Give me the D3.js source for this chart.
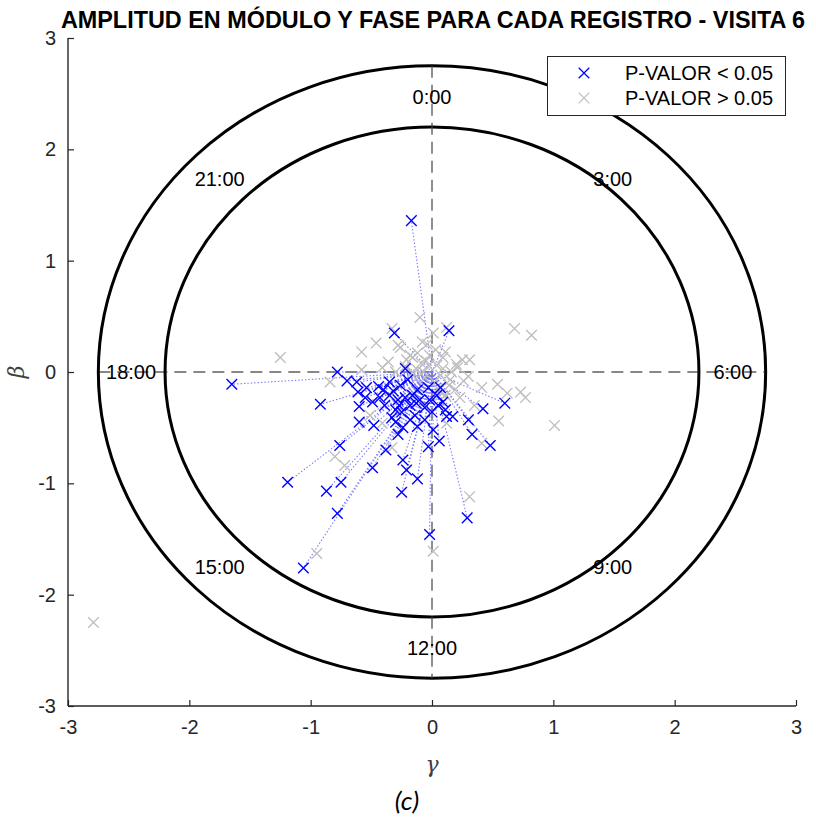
<!DOCTYPE html>
<html><head><meta charset="utf-8">
<script src="https://cdn.jsdelivr.net/npm/d3@7"></script>
<style>body{margin:0;background:#fff}svg{display:block}</style>
</head><body>
<svg id="c" width="816" height="821"></svg>
<script>
// ---------- DATA ----------
const titleText = "AMPLITUD EN MÓDULO Y FASE PARA CADA REGISTRO - VISITA 6";
const xTicks = [-3,-2,-1,0,1,2,3];
const yTicks = [-3,-2,-1,0,1,2,3];
const ringRadii = [2.2, 2.75];
const hourLabels = ["0:00","3:00","6:00","9:00","12:00","15:00","18:00","21:00"];
const hourX = [0, 1.49, 2.48, 1.49, 0, -1.75, -2.48, -1.75];
const hourY = [2.47, 1.73, 0, -1.75, -2.48, -1.75, 0, 1.73];
const legendLabels = ["P-VALOR < 0.05", "P-VALOR > 0.05"];

// significant (p < 0.05): gamma, beta
const sigGamma = [-0.17,-1.65,-0.78,-0.31,0.14,-0.22,-0.70,-0.62,-0.61,-0.44,-0.92,-0.60,-0.60,-0.48,-0.76,-1.19,-0.87,-0.75,-0.78,-1.06,
  -0.49,-0.38,-0.28,-0.24,-0.21,-0.25,-0.12,-0.02,-0.03,0.06,0.01,-0.12,-0.24,0.12,0.17,0.30,0.33,0.48,0.42,0.60,0.29,
  -0.35,-0.28,-0.22,-0.16,-0.39,-0.30,-0.25,-0.18,-0.10,-0.06,-0.14,-0.33,-0.43,-0.49,-0.55,-0.02,0.05,0.11,0.04,0.07,-0.03,-0.12,-0.26,-0.20,-0.35,-0.40,-0.54,-0.06,-0.18,-0.30,
  -0.32,-0.27,-0.13,0.00,0.09];
const sigBeta = [1.36,-0.11,0.00,0.35,0.37,0.03,-0.08,-0.09,-0.18,-0.13,-0.29,-0.31,-0.45,-0.48,-0.66,-0.99,-1.07,-0.99,-1.27,-1.76,
  -0.86,-0.70,-0.56,-0.79,-0.88,-1.08,-0.96,-1.46,-0.67,-0.62,-0.52,-0.49,-0.50,-0.40,-0.40,-0.43,-0.56,-0.66,-0.33,-0.28,-1.31,
  -0.21,-0.25,-0.23,-0.21,-0.30,-0.34,-0.36,-0.30,-0.25,-0.32,-0.39,-0.41,-0.23,-0.27,-0.23,-0.25,-0.30,-0.34,-0.21,-0.14,-0.14,-0.16,-0.12,-0.07,-0.09,-0.16,-0.14,-0.43,-0.43,-0.45,
  -0.17,-0.30,-0.28,-0.36,-0.27];

// non-significant (p > 0.05): gamma, beta
const nsGamma = [-2.79,-1.25,-0.84,-0.58,-0.46,-0.33,-0.10,-0.28,-0.08,0.12,0.01,0.68,0.82,-0.58,-0.41,-0.26,-0.18,-0.21,-0.12,0.11,
  0.09,-0.16,0.21,0.30,0.41,0.54,0.73,0.77,0.62,0.35,0.55,1.01,0.41,0.31,0.01,-0.95,-0.80,-0.72,-0.51,-0.41,
  -0.33,0.12,-0.07,-0.03,0.04,0.07,0.15,0.19,0.23,0.02,-0.06,-0.12,-0.16,0.11,0.16,-0.02,-0.36,-0.30,0.25,0.31,
  -0.05,0.03,0.09,-0.09,0.14,0.05,-0.13,0.20,-0.22,0.26,0.08,-0.04];
const nsBeta = [-2.25,0.13,-0.09,0.18,0.26,0.39,0.49,0.24,0.27,0.40,0.35,0.39,0.33,0.02,0.04,0.22,0.15,0.11,0.17,0.18,
  0.13,0.13,0.04,-0.04,-0.14,-0.11,-0.18,-0.23,-0.19,-0.30,-0.44,-0.48,-0.64,-1.12,-1.61,-1.63,-0.76,-0.84,-0.39,-0.46,
  -0.68,-0.46,0.00,0.06,0.06,-0.03,-0.07,-0.16,-0.23,-0.09,-0.05,0.02,0.00,-0.21,0.00,0.15,0.09,0.00,0.11,0.11,
  0.10,0.20,0.03,0.08,-0.12,-0.15,-0.06,0.07,0.05,-0.08,-0.19,0.25];

// ---------- DRAW ----------
const svg = d3.select("#c");
const font = "'Liberation Sans', Arial, Helvetica, sans-serif";
const axCol = "#262626";
const blue = "#0000ff", grey = "#bdbdbd", lineBlue = "#7878ff";

const x = d3.scaleLinear().domain([-3,3]).range([68,796]);
const y = d3.scaleLinear().domain([-3,3]).range([706,38]);

const sig = sigGamma.map((g,i)=>({g, b:sigBeta[i]}));
const ns = nsGamma.map((g,i)=>({g, b:nsBeta[i]}));

// rings
ringRadii.forEach(r=>{
  svg.append("ellipse").attr("cx",x(0)).attr("cy",y(0))
    .attr("rx",x(r)-x(0)).attr("ry",y(0)-y(r))
    .attr("fill","none").attr("stroke","#000").attr("stroke-width",3);
});
// dashed cross
const R = ringRadii[1];
svg.append("line").attr("x1",x(-R)).attr("x2",x(R)).attr("y1",y(0)).attr("y2",y(0))
  .attr("stroke","#111").attr("stroke-width",1.2).attr("stroke-dasharray","12,7");
svg.append("line").attr("x1",x(0)).attr("x2",x(0)).attr("y1",y(R)).attr("y2",y(-R))
  .attr("stroke","#444").attr("stroke-width",1.2).attr("stroke-dasharray","12,7");

// hour labels
hourLabels.forEach((t,i)=>{
  svg.append("text").attr("x",x(hourX[i])).attr("y",y(hourY[i])).attr("dy","0.35em")
    .attr("text-anchor","middle").attr("font-family",font).attr("font-size",20).attr("fill","#000").text(t);
});

// dotted lines origin -> significant points
svg.append("g").selectAll("line").data(sig).join("line")
  .attr("x1",x(0)).attr("y1",y(0)).attr("x2",d=>x(d.g)).attr("y2",d=>y(d.b))
  .attr("stroke",lineBlue).attr("stroke-width",1.1).attr("stroke-dasharray","1.4,2");

function cross(sel, col, sw){
  const s = 5.3;
  sel.append("path").attr("d",`M${-s},${-s}L${s},${s}M${-s},${s}L${s},${-s}`)
    .attr("stroke",col).attr("stroke-width",sw).attr("fill","none");
}
svg.append("g").selectAll("g").data(ns).join("g")
  .attr("transform",d=>`translate(${x(d.g)},${y(d.b)})`).call(cross, grey, 1.3);
svg.append("g").selectAll("g").data(sig).join("g")
  .attr("transform",d=>`translate(${x(d.g)},${y(d.b)})`).call(cross, blue, 1.4);

// axes
const gx = svg.append("g").attr("transform",`translate(0,${y(-3)})`)
  .call(d3.axisBottom(x).tickValues(xTicks).tickSize(-6).tickPadding(14).tickFormat(d3.format("d")));
const gy = svg.append("g").attr("transform",`translate(${x(-3)},0)`)
  .call(d3.axisLeft(y).tickValues(yTicks).tickSize(-6).tickPadding(12).tickFormat(d3.format("d")));
[gx,gy].forEach(g=>{
  g.select(".domain").attr("stroke",axCol).attr("stroke-width",1.4).attr("d",
    g===gx ? `M${x(-3)},0H${x(3)}` : `M0,${y(-3)}V${y(3)}`);
  g.selectAll(".tick line").attr("stroke",axCol).attr("stroke-width",1.2);
  g.selectAll(".tick text").attr("font-family",font).attr("font-size",20).attr("fill",axCol)
   .text(d=>d<0?"-"+Math.abs(d):d);
});

// axis labels
svg.append("text").attr("x",x(0)).attr("y",772).attr("text-anchor","middle")
  .attr("font-family","'DejaVu Serif', 'Liberation Serif', serif").attr("font-style","italic")
  .attr("font-size",22).attr("fill","#404040").text("γ");
svg.append("text").attr("transform",`translate(24,${y(0)}) rotate(-90)`).attr("text-anchor","middle")
  .attr("font-family","'DejaVu Serif', 'Liberation Serif', serif").attr("font-style","italic")
  .attr("font-size",22).attr("fill","#404040").text("β");

// title
svg.append("text").attr("x",433).attr("y",28).attr("text-anchor","middle")
  .attr("font-family",font).attr("font-weight","bold").attr("font-size",23.4).attr("fill","#000").text(titleText);

// legend
const lg = svg.append("g");
lg.append("rect").attr("x",547.5).attr("y",56.5).attr("width",238).attr("height",59)
  .attr("fill","#fff").attr("stroke",axCol).attr("stroke-width",1);
legendLabels.forEach((t,i)=>{
  const yy = 73 + i*25;
  lg.append("g").attr("transform",`translate(584,${yy})`).call(cross, i===0?blue:grey, i===0?1.3:1.2);
  lg.append("text").attr("x",625).attr("y",yy).attr("dy","0.35em").attr("font-family",font)
    .attr("font-size",20).attr("fill","#000").text(t);
});

// caption
svg.append("text").attr("x",407).attr("y",810).attr("text-anchor","middle")
  .attr("font-family","Lato, 'Open Sans', sans-serif").attr("font-style","italic")
  .attr("font-size",26).attr("fill","#000").text("(c)");
</script>
</body></html>
